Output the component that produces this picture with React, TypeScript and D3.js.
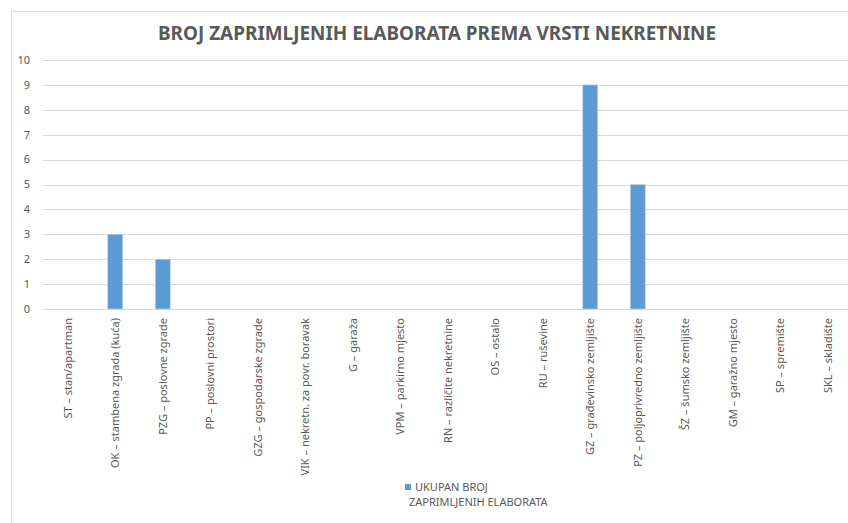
import React from "react";
import * as d3 from "d3";

const categories = [
  "ST – stan/apartman",
  "OK – stambena zgrada (kuća)",
  "PZG – poslovne zgrade",
  "PP – poslovni prostori",
  "GZG – gospodarske zgrade",
  "VIK – nekretn. za povr. boravak",
  "G – garaža",
  "VPM – parkirno mjesto",
  "RN – različite nekretnine",
  "OS – ostalo",
  "RU – ruševine",
  "GZ – građevinsko zemljište",
  "PZ – poljoprivredno zemljište",
  "ŠZ – šumsko zemljište",
  "GM – garažno mjesto",
  "SP – spremište",
  "SKL – skladište",
];
const values = [0, 3, 2, 0, 0, 0, 0, 0, 0, 0, 0, 9, 5, 0, 0, 0, 0];
const yTicks = [0, 1, 2, 3, 4, 5, 6, 7, 8, 9, 10];
const title = "BROJ ZAPRIMLJENIH ELABORATA PREMA VRSTI NEKRETNINE";
const legendLines = ["UKUPAN BROJ", "ZAPRIMLJENIH ELABORATA"];

const W = 848;
const H = 523;
const font = "'Noto Sans', 'Open Sans', sans-serif";
const textColor = "#595959";
const gridColor = "#d9d9d9";
const barColor = "#5b9bd5";

export default function App() {
  const x = d3.scaleBand<string>().domain(categories).range([44, 851.5]).padding(0);
  const y = d3.scaleLinear().domain([0, 10]).range([309, 60]);
  const barW = 15;

  return (
    <svg
      width={W}
      height={H}
      style={{ position: "absolute", left: 0, top: 0, background: "#fff" }}
      fontFamily={font}
    >
      <rect x={11.5} y={11.5} width={W} height={H} fill="#fff" stroke={gridColor} />
      <text
        x={437}
        y={40}
        textAnchor="middle"
        fontSize={19}
        fontWeight="bold"
        fill={textColor}
        textLength={558}
        lengthAdjust="spacingAndGlyphs"
      >
        {title}
      </text>

      {yTicks.map((t) => (
        <g key={t}>
          <line x1={43} x2={W} y1={Math.round(y(t)) + 0.5} y2={Math.round(y(t)) + 0.5} stroke={gridColor} />
          <text x={30} y={y(t)} dy="0.35em" textAnchor="end" fontSize={11} fill={textColor}>
            {t}
          </text>
        </g>
      ))}

      {categories.map((c, i) => {
        const cx = (x(c) as number) + x.bandwidth() / 2;
        return (
          <g key={c}>
            {values[i] > 0 && (
              <rect
                x={cx - barW / 2}
                y={y(values[i])}
                width={barW}
                height={y(0) - y(values[i])}
                fill={barColor}
                stroke="#bcd5ef"
                strokeWidth={0.6}
              />
            )}
            <text
              transform={`translate(${cx},318) rotate(-90)`}
              dy="0.35em"
              textAnchor="end"
              fontSize={11}
              fill={textColor}
            >
              {c}
            </text>
          </g>
        );
      })}

      <rect x={405} y={484} width={6} height={6} fill={barColor} />
      <text x={415} y={491} fontSize={11} fill={textColor}>
        {legendLines[0]}
      </text>
      <text x={409} y={506} fontSize={11} fill={textColor}>
        {legendLines[1]}
      </text>
    </svg>
  );
}
